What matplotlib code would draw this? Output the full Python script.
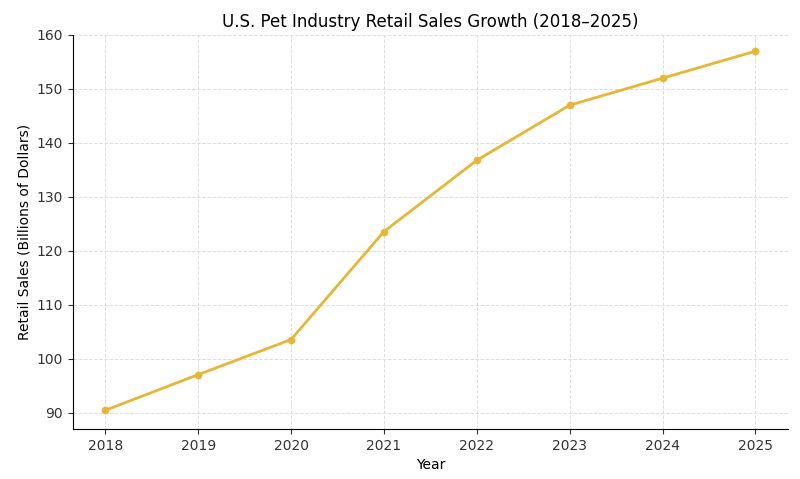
import matplotlib.pyplot as plt

years = [2018, 2019, 2020, 2021, 2022, 2023, 2024, 2025]
sales = [90.5, 97.1, 103.6, 123.6, 136.8, 147.0, 152.0, 157.0]

fig = plt.figure(figsize=(8, 4.79), dpi=100)
ax = fig.add_axes([0.091, 0.104, 0.894, 0.823])
ax.plot(years, sales, color="#E8B535", linewidth=2, marker="o", markersize=4.5)
ax.set_xlim(2017.65, 2025.35)
ax.set_ylim(87.0, 160)
ax.set_xticks(years)
ax.set_yticks(range(90, 161, 10))
ax.grid(True, linestyle="--", color="#dddddd", linewidth=0.7)
ax.spines["top"].set_visible(False)
ax.spines["right"].set_visible(False)
ax.tick_params(labelsize=10, colors="#333333")
ax.set_xlabel("Year", fontsize=10)
ax.set_ylabel("Retail Sales (Billions of Dollars)", fontsize=10)
ax.set_title("U.S. Pet Industry Retail Sales Growth (2018–2025)", fontsize=12)
fig.savefig("out.png", dpi=100)
